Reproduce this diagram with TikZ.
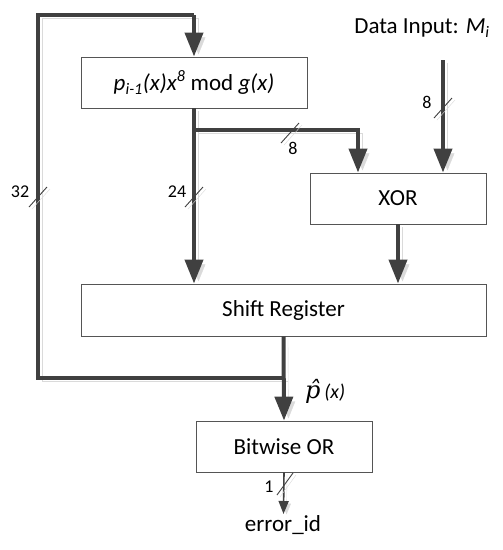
\documentclass[tikz,border=0pt]{standalone}
\usepackage{fontspec}
\setmainfont{Carlito}
\newfontfamily\dvserif{DejaVu Serif}
\usetikzlibrary{arrows.meta,calc}
\definecolor{linec}{HTML}{404040}
\definecolor{boxc}{HTML}{555555}
\definecolor{shadc}{HTML}{DADADA}
\begin{document}
\begin{tikzpicture}[x=1pt,y=-1pt,
  blk/.style={draw=boxc,line width=0.9pt,fill=white,inner sep=0pt,font=\fontsize{23}{27}\selectfont},
  bus/.style={draw=linec,line width=4pt,preaction={draw=shadc,transform canvas={xshift=4.5pt,yshift=-3pt}}},
  busarr/.style={bus,-{Triangle[length=24pt,width=18pt]}},
  thin/.style={draw=linec,line width=1.6pt,-{Triangle[length=13pt,width=10pt]},preaction={draw=shadc,transform canvas={xshift=3pt,yshift=-2pt}}},
  tick/.style={draw=linec,line width=0.9pt,preaction={draw=shadc,transform canvas={xshift=3pt,yshift=-2pt}}},
  lbl/.style={inner sep=0pt,font=\fontsize{18}{21}\selectfont},
  txt/.style={inner sep=0pt,font=\fontsize{23}{27}\selectfont}]
\useasboundingbox (0,0) rectangle (503,550);
% coordinates
\coordinate (dtop) at (443,60);
\coordinate (br) at (194,130);
\coordinate (brr) at (358,130);
\coordinate (lp1) at (283.5,378);
\coordinate (lp2) at (38,378);
\coordinate (lp3) at (38,15);
\coordinate (lp4) at (194,15);
% boxes
\node[blk,minimum width=226pt,minimum height=51pt] (poly) at (194,82.5)
  {\textit{p}\textsubscript{\textit{i-1}}\textit{(x)x}\textsuperscript{\textit{8}} mod \textit{g(x)}};
\node[blk,minimum width=176pt,minimum height=51pt] (xor) at (398,198.5) {XOR};
\node[blk,minimum width=405pt,minimum height=52pt] (shift) at (283.5,310) {Shift Register};
\node[blk,minimum width=176pt,minimum height=51pt] (bor) at (284,446.5) {Bitwise OR};
% texts
\node[txt] (din) at (422,28) {Data Input: \textit{M}\textsubscript{\textit{i}}};
\node[txt] (err) at (283,525) {error\_id};
\node[txt,anchor=west] (ph) at (305,391) {{\fontsize{24}{28}\selectfont\dvserif\itshape\^{p}}\,{\fontsize{20}{24}\selectfont\textit{(x)}}};
% connectors
\draw[bus,line join=miter] (lp1) -- (lp2) -- (lp3) -- (lp4);
\draw[busarr] (lp4) -- (poly.north);
\draw[busarr] (poly.south) -- (poly.south |- shift.north);
\draw[busarr,line join=miter] (br) -- (brr) -- (brr |- xor.north);
\draw[busarr] (dtop) -- (dtop |- xor.north);
\draw[busarr] (xor.south) -- (xor.south |- shift.north);
\draw[busarr] (shift.south) -- (bor.north);
\draw[thin] (bor.south) -- (283.5,514);
% bus width ticks
\draw[tick] (38,197) +(-9,10) -- +(9,-10);
\node[lbl] (l32) at (20,192) {32};
\draw[tick] (194,197) +(-9,10) -- +(9,-10);
\node[lbl] (l24) at (177,192) {24};
\draw[tick] (290,133) +(-9,10) -- +(9,-10);
\node[lbl] (l8a) at (293,148) {8};
\draw[tick] (443,108) +(-9,10) -- +(9,-10);
\node[lbl] (l8b) at (427,102) {8};
\draw[tick] (285,484) +(-8,11) -- +(8,-11);
\node[lbl] (l1) at (269,487) {1};
\end{tikzpicture}
\end{document}
